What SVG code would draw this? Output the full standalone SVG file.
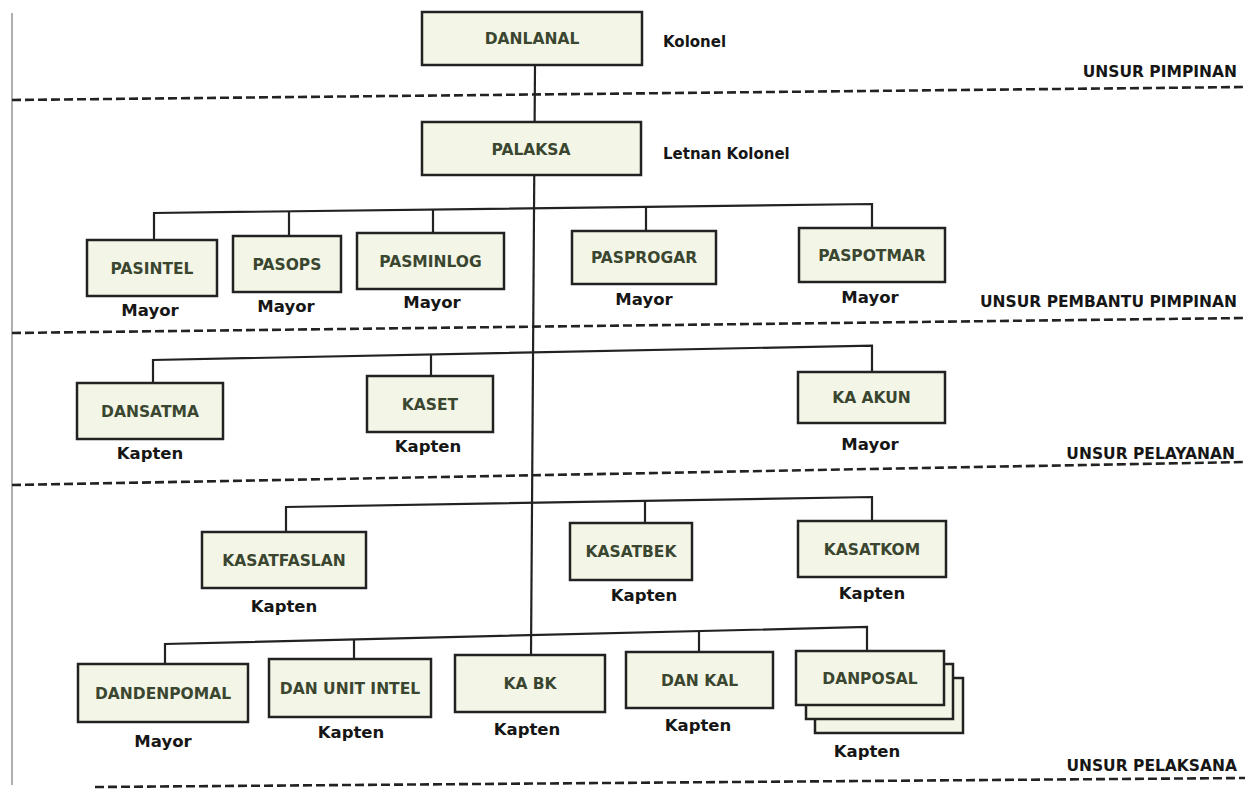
<svg xmlns="http://www.w3.org/2000/svg" width="1252" height="790" viewBox="0 0 1252 790">
<style>
.box{fill:#f3f6e6;stroke:#222;stroke-width:2.5}
.bt{font-family:"DejaVu Sans","Liberation Sans",sans-serif;font-weight:bold;font-size:15.5px;fill:#3a4630;text-anchor:middle}
.rk{font-family:"DejaVu Sans","Liberation Sans",sans-serif;font-weight:bold;font-size:16.5px;fill:#161616;text-anchor:middle}
.rl{font-family:"DejaVu Sans","Liberation Sans",sans-serif;font-weight:bold;font-size:15px;fill:#161616}
.un{font-family:"DejaVu Sans","Liberation Sans",sans-serif;font-weight:bold;font-size:15.5px;fill:#161616;text-anchor:end}
.ln{fill:none;stroke:#222;stroke-width:2.2}
.dash{fill:none;stroke:#222;stroke-width:2.6;stroke-dasharray:9 4}
</style>
<rect width="1252" height="790" fill="#ffffff"/>
<line x1="12" y1="13" x2="12" y2="785" stroke="#9a9a9a" stroke-width="1.6"/>
<g id="separators">
<line class="dash" x1="12" y1="100" x2="1245" y2="87"/>
<line class="dash" x1="12" y1="333" x2="1245" y2="318"/>
<line class="dash" x1="12" y1="485" x2="1245" y2="462"/>
<line class="dash" x1="95" y1="787" x2="1245" y2="778"/>
</g>
<g id="connectors">
<line class="ln" x1="535" y1="65" x2="531" y2="655"/>
<polyline class="ln" points="154,240 154,213 872,204 872,228"/>
<line class="ln" x1="289" y1="211.3" x2="289" y2="236"/>
<line class="ln" x1="433" y1="209.5" x2="433" y2="233"/>
<line class="ln" x1="646" y1="206.8" x2="646" y2="231"/>
<polyline class="ln" points="153,383 153,360 872,345.6 872,372"/>
<line class="ln" x1="431" y1="354.4" x2="431" y2="376"/>
<polyline class="ln" points="286,532 286,507 872,497 872,521"/>
<line class="ln" x1="645" y1="500.9" x2="645" y2="523"/>
<polyline class="ln" points="165,664 165,644 867,627 867,651"/>
<line class="ln" x1="354" y1="639.5" x2="354" y2="659"/>
<line class="ln" x1="699" y1="631.2" x2="699" y2="652"/>
</g>
<g id="danlanal"><rect class="box" x="422" y="12" width="220" height="53"/><text class="bt" x="532" y="44">DANLANAL</text><text class="rl" x="663" y="47">Kolonel</text></g>
<text class="un" x="1237" y="77">UNSUR PIMPINAN</text>
<g id="palaksa"><rect class="box" x="422" y="122" width="219" height="53"/><text class="bt" x="531" y="155">PALAKSA</text><text class="rl" x="663" y="159">Letnan Kolonel</text></g>
<g id="pasintel"><rect class="box" x="87" y="240" width="130" height="56"/><text class="bt" x="152" y="274">PASINTEL</text><text class="rk" x="150" y="316">Mayor</text></g>
<g id="pasops"><rect class="box" x="233" y="236" width="108" height="56"/><text class="bt" x="287" y="270">PASOPS</text><text class="rk" x="286" y="312">Mayor</text></g>
<g id="pasminlog"><rect class="box" x="357" y="233" width="147" height="56"/><text class="bt" x="430.5" y="267">PASMINLOG</text><text class="rk" x="432" y="308">Mayor</text></g>
<g id="pasprogar"><rect class="box" x="572" y="231" width="144" height="53"/><text class="bt" x="644" y="263">PASPROGAR</text><text class="rk" x="644" y="305">Mayor</text></g>
<g id="paspotmar"><rect class="box" x="799" y="228" width="146" height="54"/><text class="bt" x="872" y="261">PASPOTMAR</text><text class="rk" x="870" y="303">Mayor</text></g>
<text class="un" x="1237" y="307">UNSUR PEMBANTU PIMPINAN</text>
<g id="dansatma"><rect class="box" x="77" y="383" width="146" height="56"/><text class="bt" x="150" y="417">DANSATMA</text><text class="rk" x="150" y="459">Kapten</text></g>
<g id="kaset"><rect class="box" x="367" y="376" width="126" height="56"/><text class="bt" x="430" y="410">KASET</text><text class="rk" x="428" y="452">Kapten</text></g>
<g id="kaakun"><rect class="box" x="798" y="372" width="147" height="51"/><text class="bt" x="871.5" y="403">KA AKUN</text><text class="rk" x="870" y="450">Mayor</text></g>
<text class="un" x="1235" y="459">UNSUR PELAYANAN</text>
<g id="kasatfaslan"><rect class="box" x="202" y="532" width="164" height="56"/><text class="bt" x="284" y="566">KASATFASLAN</text><text class="rk" x="284" y="612">Kapten</text></g>
<g id="kasatbek"><rect class="box" x="570" y="523" width="122" height="57"/><text class="bt" x="631" y="557">KASATBEK</text><text class="rk" x="644" y="601">Kapten</text></g>
<g id="kasatkom"><rect class="box" x="798" y="521" width="148" height="56"/><text class="bt" x="872" y="555">KASATKOM</text><text class="rk" x="872" y="599">Kapten</text></g>
<g id="dandenpomal"><rect class="box" x="78" y="664" width="170" height="58"/><text class="bt" x="163" y="699">DANDENPOMAL</text><text class="rk" x="163" y="747">Mayor</text></g>
<g id="danunitintel"><rect class="box" x="269" y="659" width="162" height="58"/><text class="bt" x="350" y="694">DAN UNIT INTEL</text><text class="rk" x="351" y="738">Kapten</text></g>
<g id="kabk"><rect class="box" x="455" y="655" width="150" height="57"/><text class="bt" x="530" y="689">KA BK</text><text class="rk" x="527" y="735">Kapten</text></g>
<g id="dankal"><rect class="box" x="626" y="652" width="147" height="56"/><text class="bt" x="699.5" y="686">DAN KAL</text><text class="rk" x="698" y="731">Kapten</text></g>
<g id="danposal"><rect class="box" x="815" y="678" width="148" height="55"/><rect class="box" x="806" y="664" width="147" height="55"/><rect class="box" x="796" y="651" width="148" height="54"/><text class="bt" x="870" y="684">DANPOSAL</text><text class="rk" x="867" y="757">Kapten</text></g>
<text class="un" x="1237" y="771">UNSUR PELAKSANA</text>
</svg>
